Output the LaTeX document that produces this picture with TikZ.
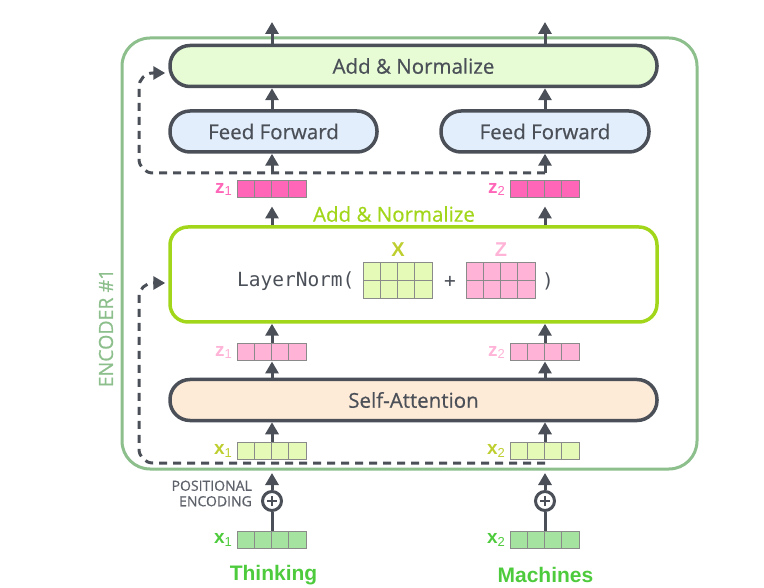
\documentclass[tikz,border=0pt]{standalone}
\usepackage{fontspec}
\setmainfont{Open Sans}[FakeBold=0.5]
\setmonofont{DejaVu Sans Mono}
\newfontfamily\labfont{Liberation Sans}
\newfontfamily\boxfont{Open Sans}[FakeBold=0.6]
\usetikzlibrary{arrows.meta,positioning}
\definecolor{darkgray}{HTML}{4B5058}
\definecolor{encgreen}{HTML}{8CBF8C}
\definecolor{limeline}{HTML}{A2D61B}
\definecolor{addfill}{HTML}{E7FCD5}
\definecolor{fffill}{HTML}{E2EEFB}
\definecolor{safill}{HTML}{FDEBD8}
\definecolor{zdark}{HTML}{FF66B8}
\definecolor{zlight}{HTML}{FFB3D7}
\definecolor{xlight}{HTML}{E4FAB6}
\definecolor{xgreen}{HTML}{A5E3A0}
\definecolor{xolive}{HTML}{BDCE2E}
\definecolor{wordgreen}{HTML}{4ECB3D}
\definecolor{cellgray}{HTML}{8A8A8A}

% row of four cells: [extra style]{name}{centre}{fill}
\newcommand{\cellrow}[4][]{%
  \node[vec, fill=#4, #1] (#2) at (#3) {};
  \foreach \k in {1,2,3}
    \draw[cell] ([xshift=\k*17.25pt]#2.north west) -- ([xshift=\k*17.25pt]#2.south west);}
% vector label, bold letter with small index
\newcommand{\vlab}[2]{{\labfont\bfseries #1}{\labfont\fontsize{13}{13}\selectfont\raisebox{-2.5pt}{#2}}}

\begin{document}
\begin{tikzpicture}[x=1pt, y=-1pt,
  font=\boxfont\fontsize{20.5}{24}\selectfont,
  block/.style={draw=darkgray, line width=3.5pt, rounded corners=20pt,
    minimum height=41pt, text=darkgray},
  vec/.style={draw=cellgray, line width=1pt, minimum width=69pt,
    minimum height=17pt, inner sep=0pt},
  cell/.style={draw=cellgray, line width=1pt},
  vlabel/.style={anchor=east, inner sep=0pt, font=\fontsize{19}{19}\selectfont},
  flow/.style={-{Triangle[length=12pt,width=13pt]}, line width=3pt, draw=darkgray},
  skip/.style={flow, dash pattern=on 8pt off 6pt, rounded corners=14pt},
  mono/.style={font=\ttfamily\fontsize{19.5}{22}\selectfont, text=darkgray},
  word/.style={font=\labfont\bfseries\fontsize{21}{24}\selectfont, text=wordgreen}
]
\useasboundingbox (0,0) rectangle (764,588);

% encoder frame
\node[draw=encgreen, line width=3pt, rounded corners=28pt, minimum width=575pt,
  minimum height=431pt] (encoder) at (409.5,253.5) {};
\node[rotate=90, text=encgreen, font=\boxfont\fontsize{19.5}{22}\selectfont] (enclabel) at (106,328) {ENCODER \#1};

% main blocks
\node[block, fill=addfill, minimum width=487pt] (addnorm) at (413.5,66) {Add \& Normalize};
\node[block, fill=fffill, minimum width=207pt] (ffa) at (273.5,131.5) {Feed Forward};
\node[block, fill=fffill, minimum width=208pt] (ffb) at (545,131.5) {Feed Forward};
\node[draw=limeline, line width=3.5pt, rounded corners=18pt, minimum width=487pt,
  minimum height=95pt] (lnbox) at (413.5,274.5) {};
\node[text=limeline] (lntitle) at (394,214) {Add \& Normalize};
\node[block, fill=safill, minimum width=487pt] (selfatt) at (413.5,400) {Self-Attention};

% LayerNorm( X + Z )
\cellrow[minimum height=36pt]{matx}{398,281}{xlight}
\draw[cell] (matx.west) -- (matx.east);
\cellrow[minimum height=36pt]{matz}{501,281}{zlight}
\draw[cell] (matz.west) -- (matz.east);
\node[mono, anchor=east] (lnopen) at ([xshift=-5pt]matx.west) {LayerNorm(};
\node[mono] (lnplus) at (450,282) {+};
\node[mono] (lnclose) at (548,281) {)};
\node[font=\labfont\bfseries\fontsize{20}{20}\selectfont, text=xolive] (xname) at (398,250) {X};
\node[font=\labfont\bfseries\fontsize{20}{20}\selectfont, text=zlight] (zname) at (501,250) {Z};

% vectors
\cellrow{zda}{272,189.5}{zdark}
\cellrow{zdb}{545,189.5}{zdark}
\cellrow{zla}{272,352.5}{zlight}
\cellrow{zlb}{545,352.5}{zlight}
\cellrow{xla}{272,451}{xlight}
\cellrow{xlb}{545,451}{xlight}
\cellrow{xga}{272,540}{xgreen}
\cellrow{xgb}{545,540}{xgreen}
\node[vlabel, text=zdark] (zdalab) at ([xshift=-5pt]zda.west) {\vlab{z}{1}};
\node[vlabel, text=zdark] (zdblab) at ([xshift=-5pt]zdb.west) {\vlab{z}{2}};
\node[vlabel, text=zlight] (zlalab) at ([xshift=-5pt]zla.west) {\vlab{z}{1}};
\node[vlabel, text=zlight] (zlblab) at ([xshift=-5pt]zlb.west) {\vlab{z}{2}};
\node[vlabel, text=xolive] (xlalab) at ([xshift=-5pt]xla.west) {\vlab{x}{1}};
\node[vlabel, text=xolive] (xlblab) at ([xshift=-5pt]xlb.west) {\vlab{x}{2}};
\node[vlabel, text=wordgreen] (xgalab) at ([xshift=-5pt]xga.west) {\vlab{x}{1}};
\node[vlabel, text=wordgreen] (xgblab) at ([xshift=-5pt]xgb.west) {\vlab{x}{2}};

% positional encoding
\node[circle, draw=darkgray, line width=3pt, minimum size=19pt, inner sep=0pt] (pea) at (272,501) {};
\node[circle, draw=darkgray, line width=3pt, minimum size=19pt, inner sep=0pt] (peb) at (545,501) {};
\foreach \p in {pea,peb} {
  \draw[darkgray, line width=2.5pt] ([xshift=-5pt]\p.center) -- ([xshift=5pt]\p.center);
  \draw[darkgray, line width=2.5pt] ([yshift=-5pt]\p.center) -- ([yshift=5pt]\p.center);
}
\node[align=right, anchor=east, text=darkgray!90, inner sep=0pt,
  font=\boxfont\fontsize{14}{15.5}\selectfont] (posenc) at (252,493.5) {POSITIONAL\\ENCODING};

% words
\node[word] (wa) at (273.5,575) {Thinking};
\node[word] (wb) at (545.5,575) {Machines};

% connectors
\coordinate (outa) at (272,22);
\coordinate (outb) at (545,22);
\coordinate (resa) at (272,173);
\coordinate (resb) at (545,173);
\coordinate (restop) at (139,173);
\coordinate (inb) at (545,463);
\coordinate (inbot) at (139,463);

\foreach \c/\o/\r/\zd/\zl/\xl/\xg/\pe in {a/outa/resa/zda/zla/xla/xga/pea, b/outb/resb/zdb/zlb/xlb/xgb/peb} {
  \draw[flow] (addnorm.north -| \o) -- (\o);
  \draw[flow] (ff\c.north -| \o) -- (addnorm.south -| \o);
  \draw[flow] (\r) -- (ff\c.south -| \o);
  \draw[flow, shorten >=8pt] (lnbox.north -| \o) -- (\zd.south);
  \draw[flow] (\zl.north) -- (lnbox.south -| \o);
  \draw[flow] (selfatt.north -| \o) -- (\zl.south);
  \draw[flow] (\xl.north) -- (selfatt.south -| \o);
  \draw[flow, shorten >=13pt] (\pe.north) -- (\xl.south);
  \draw[darkgray, line width=3pt] (\xg.north) -- (\pe.south);
}

% residual paths
\draw[skip] (resb) -- (restop) -- ([yshift=-7pt]addnorm.west -| restop) -- ([yshift=-7pt, xshift=-3pt]addnorm.west);
\draw[skip] (inb) -- (inbot) -- ([yshift=-8.5pt]lnbox.west -| inbot) -- ([yshift=-8.5pt, xshift=-3pt]lnbox.west);
\end{tikzpicture}
\end{document}
